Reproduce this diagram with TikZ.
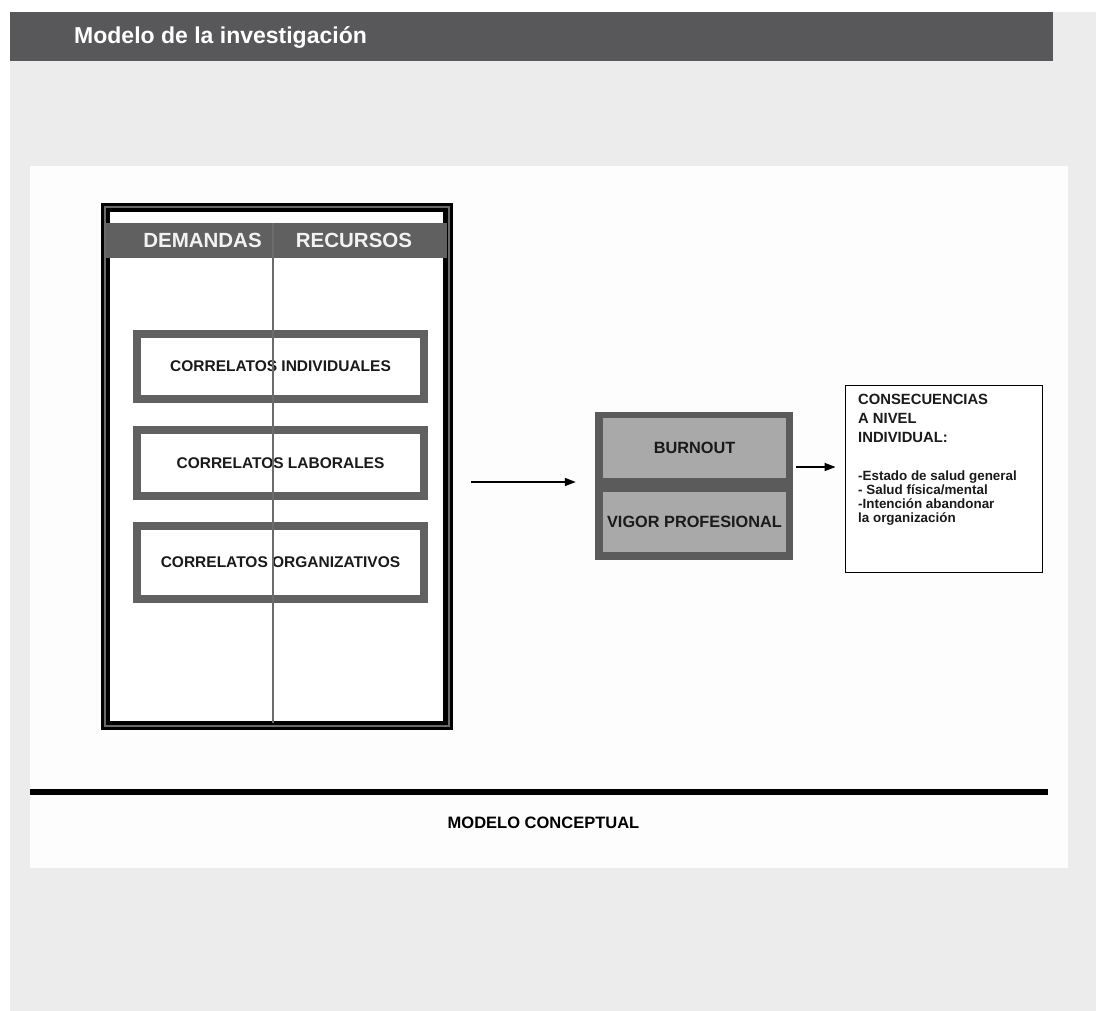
\documentclass[tikz,border=0pt]{standalone}
\usepackage{fontspec}
\setmainfont{Liberation Sans}
\usetikzlibrary{arrows.meta}
\definecolor{bggray}{HTML}{EBECEB}
\definecolor{panelwhite}{HTML}{FDFDFD}
\definecolor{headgray}{HTML}{58585A}
\definecolor{bandgray}{HTML}{606060}
\definecolor{ringgray}{HTML}{6A6A6A}
\definecolor{boxgray}{HTML}{616161}
\definecolor{lightbox}{HTML}{A9A9A9}
\definecolor{darkbox}{HTML}{5B5B5B}
\definecolor{txt}{HTML}{1A1A1A}
\begin{document}
\begin{tikzpicture}[x=1pt,y=-1pt,
  corbox/.style={draw=boxgray, line width=8pt, fill=white, minimum width=287pt, inner sep=0pt,
     font=\fontsize{15.5}{18}\selectfont\bfseries, text=txt},
  innerbox/.style={fill=lightbox, minimum width=183pt, minimum height=60pt, inner sep=0pt,
     font=\fontsize{16.3}{19}\selectfont\bfseries, text=txt},
  bandtxt/.style={font=\fontsize{20.5}{24}\selectfont\bfseries, text=white!95!black, inner sep=0pt},
  arr/.style={line width=1.5pt, draw=black, -{Triangle[length=11pt,width=8pt]}}]
\path[use as bounding box] (0,0) rectangle (1096,1011);
% backgrounds
\fill[bggray] (10,12) rectangle (1096,1011);
\fill[headgray] (10,12) rectangle (1053,61);
\node[anchor=base west, inner sep=0pt, text=white, font=\fontsize{23}{27}\selectfont\bfseries] (title) at (74,43.3) {Modelo de la investigación};
\fill[panelwhite] (30,166) rectangle (1068,868);

% big left box with triple border
\node[fill=black, minimum width=352pt, minimum height=527pt, inner sep=0pt] (big) at (277,466.5) {};
\fill[ringgray] (104,206) rectangle (450,727);
\fill[black] (106,208) rectangle (448,725);
\fill[white] (110,212) rectangle (443,721);
\fill[bandgray] (106,223) rectangle (447,258);
\node[bandtxt] (dem) at (202.5,240) {DEMANDAS};
\node[bandtxt] (rec) at (354,240) {RECURSOS};

% correlatos boxes
\node[corbox, minimum height=65pt] (ind) at (280.5,366.5) {CORRELATOS INDIVIDUALES};
\node[corbox, minimum height=66pt] (lab) at (280.5,463) {CORRELATOS LABORALES};
\node[corbox, minimum height=73pt] (org) at (280.5,562.5) {CORRELATOS ORGANIZATIVOS};

% divider line on top
\draw[line width=1.2pt, draw=gray!85!black] (273,223) -- (273,723);

% burnout block
\node[fill=darkbox, minimum width=198pt, minimum height=148pt, inner sep=0pt] (bo) at (694,486) {};
\node[innerbox] (burn) at (694.5,448) {BURNOUT};
\node[innerbox] (vig) at (694.5,522) {VIGOR PROFESIONAL};

% consequences box
\node[draw=black, line width=0.9pt, fill=white, minimum width=197pt, minimum height=187pt, inner sep=0pt] (cons) at (943.5,478.5) {};
\node[anchor=north west, align=left, inner sep=0pt, text=txt,
      font=\fontsize{14.8}{19}\selectfont\bfseries] (conshead) at (858,394.4)
      {CONSECUENCIAS\\A NIVEL\\INDIVIDUAL:};
\node[anchor=north west, align=left, inner sep=0pt, text=txt,
      font=\fontsize{13.4}{14.2}\selectfont\bfseries] (consbody) at (858,470.2)
      {-Estado de salud general\\- Salud física/mental\\-Intención abandonar\\la organización};

% arrows
\coordinate (a1) at (big.east |- 0,482);
\draw[arr, shorten <=18pt, shorten >=19pt] (a1) -- (bo.west |- a1);
\coordinate (a2) at (bo.east |- 0,467);
\draw[arr, shorten <=3pt, shorten >=9pt] (a2) -- (cons.west |- a2);

% bottom rule and caption
\coordinate (r1) at (30,792);
\coordinate (r2) at (1048,792);
\draw[line width=5.5pt] (r1) -- (r2);
\node[font=\fontsize{16.5}{19}\selectfont\bfseries, text=black, inner sep=0pt] (cap) at (543.5,822.5) {MODELO CONCEPTUAL};
\end{tikzpicture}
\end{document}
